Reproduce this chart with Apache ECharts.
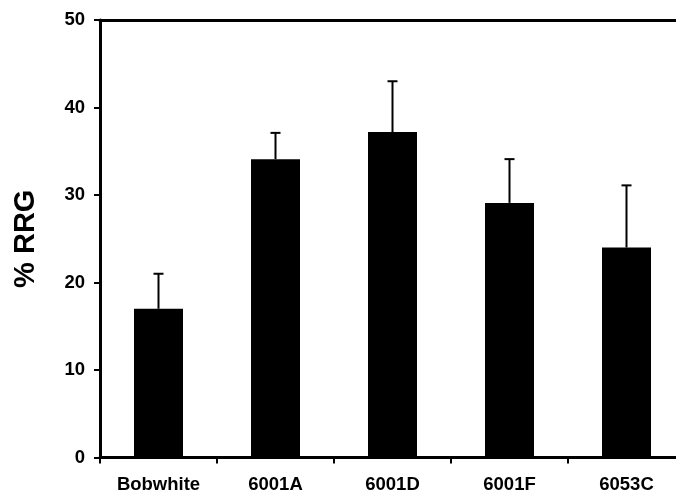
<!DOCTYPE html>
<html>
<head>
<meta charset="utf-8">
<script src="https://cdn.jsdelivr.net/npm/echarts@6/dist/echarts.min.js"></script>
<style>
  html, body { margin: 0; padding: 0; background: #fff; }
  #chart { width: 676px; height: 496px; }
</style>
</head>
<body>
<div id="chart"></div>
<script>
  // values
  var categories = ['Bobwhite', '6001A', '6001D', '6001F', '6053C'];
  var meanValues = [17, 34.1, 37.2, 29.1, 24];
  var errorTops = [21, 37.1, 43, 34.1, 31.1];
  var yTicks = [0, 10, 20, 30, 40, 50];

  var font = 'Liberation Sans, Arial, sans-serif';
  var chart = echarts.init(document.getElementById('chart'));

  var errData = [];
  for (var i = 0; i < categories.length; i++) {
    errData.push([i, meanValues[i], errorTops[i]]);
  }

  chart.setOption({
    animation: false,
    backgroundColor: '#fff',
    grid: {
      left: 100,
      top: 20,
      width: 585,
      bottom: 38.5,
      containLabel: false,
      outerBoundsMode: 'none'
    },
    xAxis: [{
      type: 'category',
      data: categories,
      position: 'bottom',
      axisLine: { lineStyle: { color: '#000', width: 3 } },
      axisTick: { show: true, length: 6, lineStyle: { color: '#000', width: 2 } },
      axisLabel: {
        color: '#000',
        fontFamily: font,
        fontWeight: 'bold',
        fontSize: 18.5,
        margin: 18
      }
    }, {
      type: 'category',
      data: categories,
      position: 'top',
      axisLine: { lineStyle: { color: '#000', width: 3 } },
      axisTick: { show: false },
      axisLabel: { show: false }
    }],
    yAxis: {
      type: 'value',
      min: yTicks[0],
      max: yTicks[yTicks.length - 1],
      interval: 10,
      name: '% RRG',
      nameLocation: 'middle',
      nameRotate: 90,
      nameGap: 60,
      nameTextStyle: {
        color: '#000',
        fontFamily: font,
        fontWeight: 'bold',
        fontSize: 29
      },
      axisLine: { show: true, lineStyle: { color: '#000', width: 3 } },
      axisTick: { show: true, length: 6, lineStyle: { color: '#000', width: 2 } },
      splitLine: { show: false },
      axisLabel: {
        color: '#000',
        fontFamily: font,
        fontWeight: 'bold',
        fontSize: 18.5,
        margin: 15
      }
    },
    series: [{
      type: 'bar',
      data: meanValues,
      barWidth: 49,
      itemStyle: { color: '#000' }
    }, {
      type: 'custom',
      data: errData,
      z: 5,
      renderItem: function (params, api) {
        var base = api.coord([api.value(0), api.value(1)]);
        var top = api.coord([api.value(0), api.value(2)]);
        var style = { stroke: '#000', lineWidth: 2 };
        return {
          type: 'group',
          children: [{
            type: 'line',
            shape: { x1: base[0], y1: base[1], x2: top[0], y2: top[1] },
            style: style
          }, {
            type: 'line',
            shape: { x1: top[0] - 5, y1: top[1], x2: top[0] + 5, y2: top[1] },
            style: style
          }]
        };
      }
    }]
  });
</script>
</body>
</html>
